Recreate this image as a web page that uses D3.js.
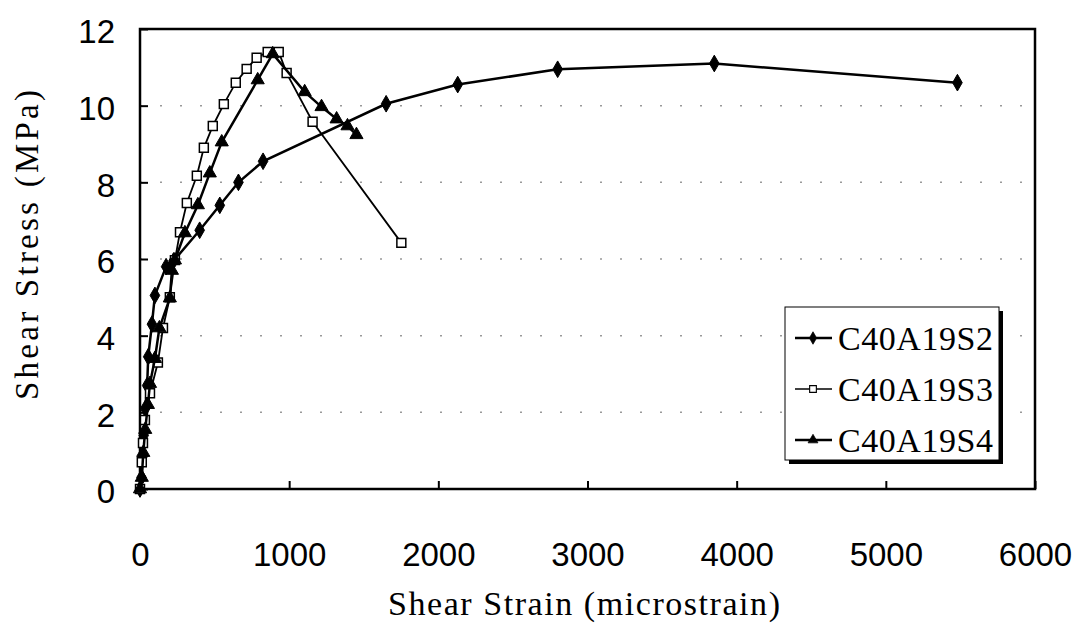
<!DOCTYPE html>
<html lang="en">
<head>
<meta charset="UTF-8">
<title>Shear stress vs shear strain</title>
<script src="https://d3js.org/d3.v7.min.js"></script>
<style>
  body { margin: 0; background: #fff; }
</style>
</head>
<body>
<script>
// data: [strain (microstrain), stress (MPa)]
const s2 = [[0,0],[10,0.3],[18,0.85],[25,1.4],[35,2.1],[48,2.7],[55,3.45],[80,4.3],[100,5.05],[175,5.8],[225,5.95],
            [400,6.75],[535,7.4],[660,8.0],[825,8.55],[1650,10.05],[2130,10.55],[2800,10.95],[3850,11.1],[5480,10.6]];
const s3 = [[0,0],[12,0.7],[20,1.2],[33,1.8],[67,2.5],[120,3.3],[154,4.2],[200,5.0],[234,5.97],[268,6.7],[314,7.46],
            [381,8.17],[428,8.9],[488,9.47],[562,10.04],[642,10.6],[715,10.96],[782,11.25],[856,11.4],[930,11.4],
            [983,10.85],[1157,9.58],[1752,6.42]];
const s4 = [[0,0],[12,0.3],[22,0.95],[35,1.55],[53,2.2],[67,2.75],[100,3.4],[130,4.2],[200,4.98],[214,5.7],[234,5.97],
            [301,6.68],[388,7.41],[468,8.24],[548,9.05],[789,10.67],[890,11.35],[1104,10.36],[1217,9.97],
            [1318,9.65],[1391,9.47],[1451,9.24]];
const seriesNames = ["C40A19S2", "C40A19S3", "C40A19S4"];
const markerTypes = ["diamond", "square", "triangle"];
const xTicks = [0, 1000, 2000, 3000, 4000, 5000, 6000];
const yTicks = [0, 2, 4, 6, 8, 10, 12];

const width = 1077, height = 624;
const svg = d3.select("body").append("svg")
    .attr("width", width).attr("height", height);

const x = d3.scaleLinear().domain([0, 6000]).range([140, 1035]);
const y = d3.scaleLinear().domain([0, 12]).range([489, 29]);

// faint dotted gridlines
svg.append("g").selectAll("line")
    .data(yTicks.filter(d => d > 0 && d < 12))
    .join("line")
    .attr("x1", x(0)).attr("x2", x(6000))
    .attr("y1", d => y(d)).attr("y2", d => y(d))
    .attr("stroke", "#999").attr("stroke-width", 1.5)
    .attr("stroke-dasharray", "2,18");

// frame
svg.append("rect")
    .attr("x", x(0)).attr("y", y(12))
    .attr("width", x(6000) - x(0)).attr("height", y(0) - y(12))
    .attr("fill", "none").attr("stroke", "#000").attr("stroke-width", 2.5);

// axes with inner ticks
const xAxis = svg.append("g")
    .attr("transform", `translate(0,${y(0)})`)
    .call(d3.axisBottom(x).tickValues(xTicks).tickFormat(d3.format("d"))
      .tickSizeInner(-8).tickSizeOuter(0).tickPadding(54));
const yAxis = svg.append("g")
    .attr("transform", `translate(${x(0)},0)`)
    .call(d3.axisLeft(y).tickValues(yTicks).tickFormat(d3.format("d"))
      .tickSizeInner(-8).tickSizeOuter(0).tickPadding(25));
[xAxis, yAxis].forEach(a => {
  a.select(".domain").remove();
  a.selectAll(".tick line").attr("stroke", "#000").attr("stroke-width", 2);
  a.selectAll("text")
    .attr("font-family", "'Liberation Sans', Arial, sans-serif")
    .attr("font-size", 33).attr("fill", "#000");
});
xAxis.selectAll("text").attr("dy", "0.71em");
yAxis.selectAll("text").attr("dy", "0.42em");

// axis titles
svg.append("text")
    .attr("x", 584).attr("y", 615)
    .attr("text-anchor", "middle")
    .attr("font-family", "'Liberation Serif', 'Times New Roman', serif")
    .attr("font-size", 34)
    .attr("textLength", 392).attr("lengthAdjust", "spacing")
    .text("Shear Strain (microstrain)");
svg.append("text")
    .attr("transform", "translate(38,245) rotate(-90)")
    .attr("text-anchor", "middle")
    .attr("font-family", "'Liberation Serif', 'Times New Roman', serif")
    .attr("font-size", 33)
    .attr("textLength", 310).attr("lengthAdjust", "spacing")
    .text("Shear Stress (MPa)");

const symbols = {
  diamond: d3.symbol().type(d3.symbolDiamond).size(80),
  square: d3.symbol().type(d3.symbolSquare).size(80),
  triangle: d3.symbol().type(d3.symbolTriangle).size(75)
};

function drawMarker(g, type, scale) {
  g.append("path")
    .attr("d", symbols[type]())
    .attr("transform", `scale(${scale || 1})`)
    .attr("fill", type === "square" ? "#fff" : "#000")
    .attr("stroke", "#000")
    .attr("stroke-width", type === "square" ? 1.5 : 1);
}

const line = d3.line().x(d => x(d[0])).y(d => y(d[1]));
const allSeries = [s2, s3, s4];

allSeries.forEach((data, i) => {
  const g = svg.append("g");
  g.append("path")
    .datum(data)
    .attr("d", line)
    .attr("fill", "none")
    .attr("stroke", "#000")
    .attr("stroke-width", i === 1 ? 1.8 : 2.5);
  g.selectAll("g.pt")
    .data(data)
    .join("g")
    .attr("class", "pt")
    .attr("transform", d => `translate(${x(d[0])},${y(d[1])})`)
    .each(function() { drawMarker(d3.select(this), markerTypes[i]); });
});

// legend with drop shadow
const lg = svg.append("g");
lg.append("rect")
  .attr("x", 789).attr("y", 311).attr("width", 214).attr("height", 153)
  .attr("fill", "#000");
lg.append("rect")
  .attr("x", 785).attr("y", 307).attr("width", 214).attr("height", 153)
  .attr("fill", "#fff").attr("stroke", "#000").attr("stroke-width", 1);

seriesNames.forEach((name, i) => {
  const cy = 338 + i * 51;
  lg.append("line")
    .attr("x1", 795).attr("x2", 832)
    .attr("y1", cy).attr("y2", cy)
    .attr("stroke", "#000").attr("stroke-width", i === 1 ? 1.5 : 2.5);
  const m = lg.append("g").attr("transform", `translate(813,${cy})`);
  drawMarker(m, markerTypes[i], 0.75);
  lg.append("text")
    .attr("x", 838).attr("y", cy + 12)
    .attr("font-family", "'Liberation Serif', 'Times New Roman', serif")
    .attr("font-size", 34)
    .attr("textLength", 155).attr("lengthAdjust", "spacing")
    .text(name);
});
</script>
</body>
</html>
